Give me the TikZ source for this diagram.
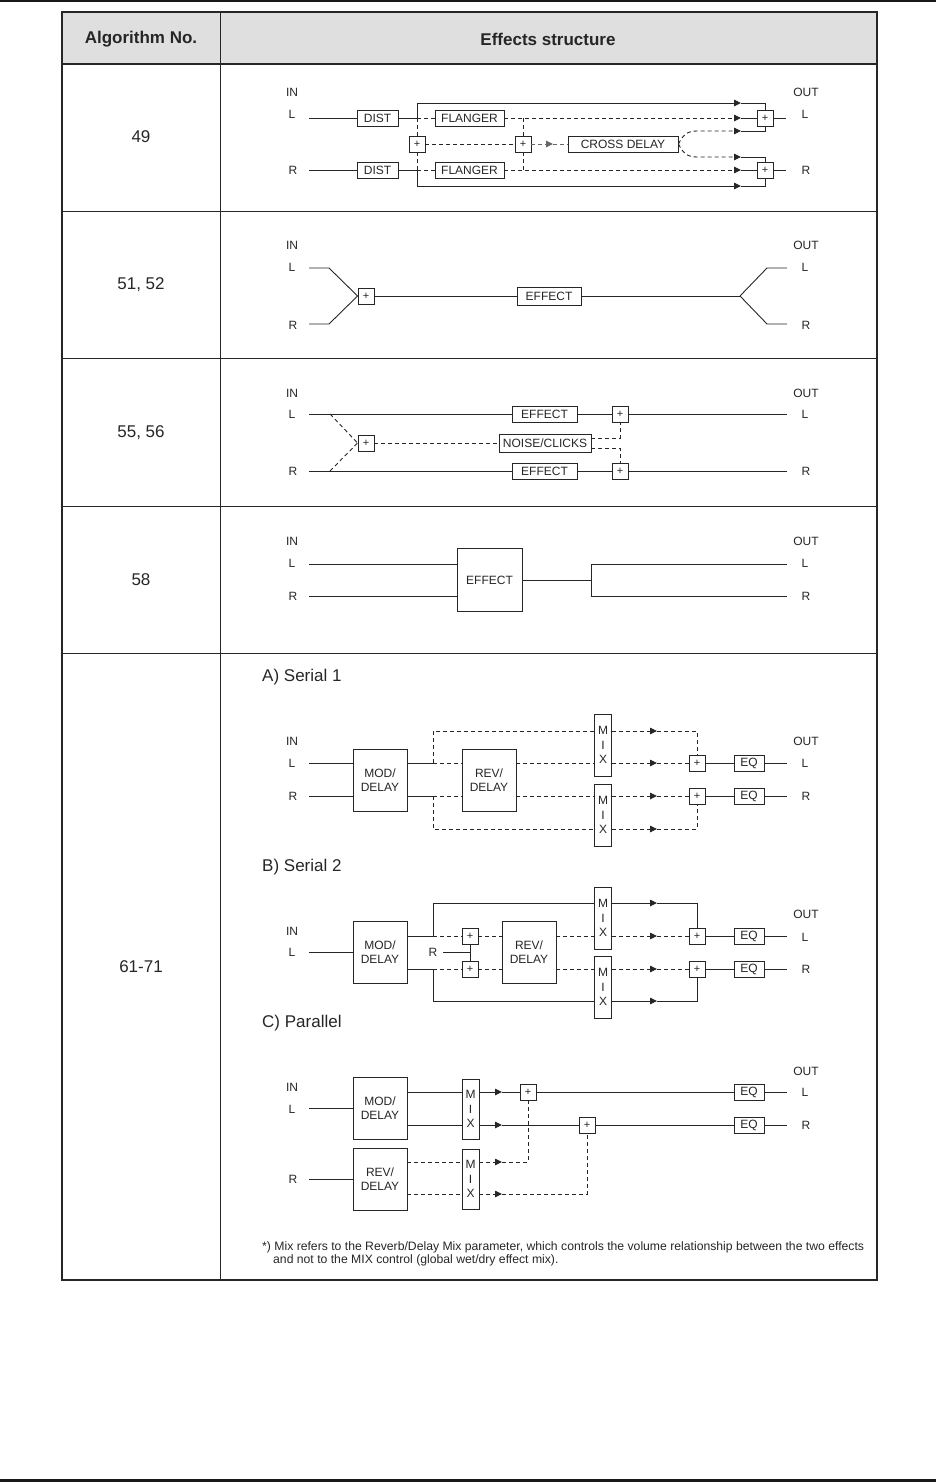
\documentclass[tikz,border=0pt]{standalone}
\usepackage{fontspec}
\setmainfont{Liberation Sans}
\usetikzlibrary{arrows.meta}

\tikzset{
  sig/.style={line width=0.9pt, black!85},
  dsig/.style={sig, dash pattern=on 4pt off 3pt},
  tip/.style={-{Triangle[length=7pt,width=6.5pt]}},
  box/.style={draw, sig, fill=white, inner sep=0pt, minimum height=16pt,
    font=\fontsize{12}{14}\selectfont},
  sum/.style={box, minimum width=16pt, font=\fontsize{11}{11}\selectfont},
  bigbox/.style={box, minimum width=54pt, minimum height=62pt, align=center},
  mixbox/.style={box, minimum width=17pt, minimum height=62pt, align=center,
    font=\fontsize{12}{14.5}\selectfont},
  lbl/.style={inner sep=0pt, black!85, font=\fontsize{12}{14}\selectfont},
  num/.style={inner sep=0pt, black!85, font=\fontsize{17}{20}\selectfont},
}

\begin{document}
\begin{tikzpicture}[x=1pt, y=-1pt]
\useasboundingbox (0,0) rectangle (936,1482);

% page rules and table
\draw[line width=2.5pt, black!90] (0,1.2) -- (936,1.2);
\draw[line width=3pt, black!90] (0,1480.5) -- (936,1480.5);
\fill[gray!25] (62,12) rectangle (877,64);
\draw[line width=1pt, black!85] (220,12) -- (220,1280);
\foreach \y in {211,358,506,653}
  \draw[line width=1pt, black!85] (62,\y) -- (877,\y);
\draw[line width=1.6pt, black!85] (62,64) -- (877,64);
\draw[line width=2pt, black!85] (62,12) rectangle (877,1280);

\node[num, font=\fontsize{17}{20}\selectfont\bfseries] (hAlg) at (141,39) {Algorithm No.};
\node[num, font=\fontsize{17}{20}\selectfont\bfseries] (hFx) at (548,39) {Effects structure};
\node[num] (n49) at (141,137) {49};
\node[num] (n51) at (141,285) {51, 52};
\node[num] (n55) at (141,433) {55, 56};
\node[num] (n58) at (141,580) {58};
\node[num] (n61) at (141,967) {61-71};

% IN / OUT labels
\foreach \n/\yi/\yl/\yr in {a/92/114/170, b/245/267/325, c/393/414/471, d/541/563/596, e/741/763/796} {
  \node[lbl] (in\n) at (292,\yi) {IN};
  \node[lbl] (il\n) at (292,\yl) {L};
  \node[lbl] (ir\n) at (293,\yr) {R};
  \node[lbl] (out\n) at (806,\yi) {OUT};
  \node[lbl] (ol\n) at (805,\yl) {L};
  \node[lbl] (or\n) at (806,\yr) {R};
}

% 49
\coordinate (aIL) at (309,118);
\coordinate (aIR) at (309,170);
\coordinate (aJL) at (417,118);
\coordinate (aJR) at (417,170);
\coordinate (aTop) at (417,103);
\coordinate (aBot) at (417,186);
\coordinate (aKL) at (523,118);
\coordinate (aKR) at (523,170);
\coordinate (aC1) at (697,131);
\coordinate (aC2) at (697,157);
\coordinate (aA1) at (741,103);
\coordinate (aA2) at (741,118);
\coordinate (aA3) at (553,144);
\coordinate (aA4) at (741,131);
\coordinate (aA5) at (741,157);
\coordinate (aA6) at (741,170);
\coordinate (aA7) at (741,186);
\coordinate (aOL) at (786,118);
\coordinate (aOR) at (786,170);
\node[box, minimum width=41pt] (distL) at (377.5,118) {DIST};
\node[box, minimum width=41pt] (distR) at (377.5,170) {DIST};
\node[box, minimum width=69pt] (flangL) at (469.5,118) {FLANGER};
\node[box, minimum width=69pt] (flangR) at (469.5,170) {FLANGER};
\node[sum] (aS1) at (417,144) {+};
\node[sum] (aS2) at (523,144) {+};
\node[box, minimum width=110pt] (cross) at (623,144) {CROSS DELAY};
\node[sum] (aSL) at (765,118) {+};
\node[sum] (aSR) at (765,170) {+};
\draw[sig] (aIL) -- (distL) -- (aJL) -- (aTop);
\draw[sig] (aIR) -- (distR) -- (aJR) -- (aBot);
\draw[sig, tip] (aTop) -- (aA1);
\draw[sig, tip] (aBot) -- (aA7);
\draw[sig] (aA1) -| (aSL);
\draw[sig] (aA7) -| (aSR);
\draw[dsig] (aJL) -- (flangL);
\draw[dsig] (aJR) -- (flangR);
\draw[dsig, tip] (flangL) -- (aA2);
\draw[dsig, tip] (flangR) -- (aA6);
\draw[sig] (aA2) -- (aSL);
\draw[sig] (aA6) -- (aSR);
\draw[dsig] (aJL) -- (aS1);
\draw[dsig] (aJR) -- (aS1);
\draw[dsig] (aKL) -- (aS2);
\draw[dsig] (aKR) -- (aS2);
\draw[dsig] (aS1) -- (aS2);
\draw[dsig, black!60, tip] (aS2) -- (aA3);
\draw[dsig, black!60] (aA3) -- (cross);
\draw[dsig, tip] (cross.east) .. controls (683,135) and (687,131) .. (aC1) -- (aA4);
\draw[dsig, tip] (cross.east) .. controls (683,153) and (687,157) .. (aC2) -- (aA5);
\draw[sig] (aA4) -| (aSL);
\draw[sig] (aA5) -| (aSR);
\draw[sig] (aSL) -- (aOL);
\draw[sig] (aSR) -- (aOR);

% 51, 52
\coordinate (bIL) at (309,268);
\coordinate (bIR) at (309,324);
\coordinate (bBL) at (329,268);
\coordinate (bBR) at (329,324);
\coordinate (bSplit) at (740,296);
\coordinate (bCL) at (767,268);
\coordinate (bCR) at (767,324);
\coordinate (bOL) at (787,268);
\coordinate (bOR) at (787,324);
\node[sum] (bS) at (366,296) {+};
\node[box, minimum width=64pt, minimum height=18pt] (bFx) at (549,296) {EFFECT};
\draw[sig] (bIL) -- (bBL) -- (bS.west);
\draw[sig] (bIR) -- (bBR) -- (bS.west);
\draw[sig] (bS) -- (bFx) -- (bSplit);
\draw[sig] (bSplit) -- (bCL) -- (bOL);
\draw[sig] (bSplit) -- (bCR) -- (bOR);

% 55, 56
\coordinate (cIL) at (309,414);
\coordinate (cIR) at (309,471);
\coordinate (cDL) at (330,414);
\coordinate (cDR) at (330,471);
\coordinate (cOL) at (787,414);
\coordinate (cOR) at (787,471);
\node[box, minimum width=65pt] (cFxL) at (544.5,414) {EFFECT};
\node[box, minimum width=65pt] (cFxR) at (544.5,471) {EFFECT};
\node[box, minimum width=92pt, minimum height=18pt] (noise) at (545,443) {NOISE/CLICKS};
\node[sum] (cS) at (366,443) {+};
\node[sum] (cSL) at (620,414) {+};
\node[sum] (cSR) at (620,471) {+};
\draw[sig] (cIL) -- (cFxL) -- (cSL) -- (cOL);
\draw[sig] (cIR) -- (cFxR) -- (cSR) -- (cOR);
\draw[dsig] (cDL) -- (cS.west);
\draw[dsig] (cDR) -- (cS.west);
\draw[dsig] (cS) -- (noise);
\draw[dsig] ([yshift=5pt]noise.east) -| (cSL);
\draw[dsig] ([yshift=-5pt]noise.east) -| (cSR);

% 58
\coordinate (dIL) at (309,564);
\coordinate (dIR) at (309,596);
\coordinate (dJ) at (591,580);
\coordinate (dJL) at (591,564);
\coordinate (dJR) at (591,596);
\coordinate (dOL) at (787,564);
\coordinate (dOR) at (787,596);
\node[box, minimum width=65pt, minimum height=63pt] (dFx) at (489.5,580) {EFFECT};
\draw[sig] (dIL) -- (dIL -| dFx.west);
\draw[sig] (dIR) -- (dIR -| dFx.west);
\draw[sig] (dFx) -- (dJ);
\draw[sig] (dOL) -- (dJL) -- (dJR) -- (dOR);

% 61-71, A) Serial 1
\node[num, anchor=west] (secA) at (262,677) {A) Serial 1};
\coordinate (eIL) at (309,763);
\coordinate (eIR) at (309,796);
\coordinate (eJL) at (433,763);
\coordinate (eJR) at (433,796);
\coordinate (eTop) at (433,731);
\coordinate (eBot) at (433,829);
\coordinate (eA1) at (657,731);
\coordinate (eA2) at (657,763);
\coordinate (eA3) at (657,796);
\coordinate (eA4) at (657,829);
\coordinate (eOL) at (787,763);
\coordinate (eOR) at (787,796);
\node[bigbox] (eMod) at (380,780) {MOD/\\DELAY};
\node[bigbox] (eRev) at (489,780) {REV/\\DELAY};
\node[mixbox] (eMixT) at (603,745) {M\\I\\X};
\node[mixbox] (eMixB) at (603,815) {M\\I\\X};
\node[sum] (eSL) at (697,763) {+};
\node[sum] (eSR) at (697,796) {+};
\node[box, minimum width=30pt] (eEqL) at (749,763) {EQ};
\node[box, minimum width=30pt] (eEqR) at (749,796) {EQ};
\draw[sig] (eIL) -- (eIL -| eMod.west);
\draw[sig] (eIR) -- (eIR -| eMod.west);
\draw[sig] (eJL -| eMod.east) -- (eJL);
\draw[sig] (eJR -| eMod.east) -- (eJR);
\draw[dsig] (eJL) -- (eJL -| eRev.west);
\draw[dsig] (eJR) -- (eJR -| eRev.west);
\draw[dsig] (eJL) -- (eTop) -- (eTop -| eMixT.west);
\draw[dsig] (eJR) -- (eBot) -- (eBot -| eMixB.west);
\draw[dsig] (eJL -| eRev.east) -- (eJL -| eMixT.west);
\draw[dsig] (eJR -| eRev.east) -- (eJR -| eMixB.west);
\draw[dsig, tip] (eTop -| eMixT.east) -- (eA1);
\draw[dsig, tip] (eJL -| eMixT.east) -- (eA2);
\draw[dsig, tip] (eJR -| eMixB.east) -- (eA3);
\draw[dsig, tip] (eBot -| eMixB.east) -- (eA4);
\draw[dsig] (eA1) -| (eSL);
\draw[dsig] (eA2) -- (eSL);
\draw[dsig] (eA3) -- (eSR);
\draw[dsig] (eA4) -| (eSR);
\draw[sig] (eSL) -- (eEqL) -- (eOL);
\draw[sig] (eSR) -- (eEqR) -- (eOR);

% B) Serial 2
\node[num, anchor=west] (secB) at (262,867) {B) Serial 2};
\node[lbl] (inf) at (292,931) {IN};
\node[lbl] (ilf) at (292,952) {L};
\node[lbl] (outf) at (806,914) {OUT};
\node[lbl] (olf) at (805,937) {L};
\node[lbl] (orf) at (806,969) {R};
\coordinate (fIL) at (309,952);
\coordinate (fRs) at (443,952);
\coordinate (fRj) at (470,952);
\coordinate (fJL) at (433,936);
\coordinate (fJR) at (433,969);
\coordinate (fTop) at (433,903);
\coordinate (fBot) at (433,1001);
\coordinate (fA1) at (657,903);
\coordinate (fA2) at (657,936);
\coordinate (fA3) at (657,969);
\coordinate (fA4) at (657,1001);
\coordinate (fOL) at (787,936);
\coordinate (fOR) at (787,969);
\node[bigbox] (fMod) at (380,952) {MOD/\\DELAY};
\node[sum] (fS1) at (470,936) {+};
\node[sum] (fS2) at (470,969) {+};
\node[bigbox] (fRev) at (529,952) {REV/\\DELAY};
\node[mixbox] (fMixT) at (603,918) {M\\I\\X};
\node[mixbox] (fMixB) at (603,987) {M\\I\\X};
\node[sum] (fSL) at (697,936) {+};
\node[sum] (fSR) at (697,969) {+};
\node[box, minimum width=30pt] (fEqL) at (749,936) {EQ};
\node[box, minimum width=30pt] (fEqR) at (749,969) {EQ};
\node[lbl] (fR) at (433,952) {R};
\draw[sig] (fIL) -- (fMod);
\draw[sig] (fJL -| fMod.east) -- (fJL) -- (fTop) -- (fTop -| fMixT.west);
\draw[sig] (fJR -| fMod.east) -- (fJR) -- (fBot) -- (fBot -| fMixB.west);
\draw[dsig] (fJL) -- (fS1);
\draw[dsig] (fJR) -- (fS2);
\draw[sig] (fS1) -- (fS2);
\draw[sig] (fRs) -- (fRj);
\draw[dsig] (fS1) -- (fS1 -| fRev.west);
\draw[dsig] (fS2) -- (fS2 -| fRev.west);
\draw[dsig] (fJL -| fRev.east) -- (fJL -| fMixT.west);
\draw[dsig] (fJR -| fRev.east) -- (fJR -| fMixB.west);
\draw[sig, tip] (fTop -| fMixT.east) -- (fA1);
\draw[dsig, tip] (fJL -| fMixT.east) -- (fA2);
\draw[dsig, tip] (fJR -| fMixB.east) -- (fA3);
\draw[sig, tip] (fBot -| fMixB.east) -- (fA4);
\draw[sig] (fA1) -| (fSL);
\draw[dsig] (fA2) -- (fSL);
\draw[dsig] (fA3) -- (fSR);
\draw[sig] (fA4) -| (fSR);
\draw[sig] (fSL) -- (fEqL) -- (fOL);
\draw[sig] (fSR) -- (fEqR) -- (fOR);

% C) Parallel
\node[num, anchor=west] (secC) at (262,1023) {C) Parallel};
\node[lbl] (ing) at (292,1087) {IN};
\node[lbl] (ilg) at (292,1109) {L};
\node[lbl] (irg) at (293,1179) {R};
\node[lbl] (outg) at (806,1071) {OUT};
\node[lbl] (olg) at (805,1092) {L};
\node[lbl] (org) at (806,1125) {R};
\coordinate (gIL) at (309,1108);
\coordinate (gIR) at (309,1179);
\coordinate (gA1) at (502,1092);
\coordinate (gA2) at (502,1125);
\coordinate (gA3) at (502,1162);
\coordinate (gA4) at (502,1194);
\coordinate (gOL) at (787,1092);
\coordinate (gOR) at (787,1125);
\node[bigbox] (gMod) at (380,1108) {MOD/\\DELAY};
\node[bigbox] (gRev) at (380,1179) {REV/\\DELAY};
\node[mixbox, minimum height=60pt] (gMixT) at (470.5,1109) {M\\I\\X};
\node[mixbox, minimum height=60pt] (gMixB) at (470.5,1179) {M\\I\\X};
\node[sum] (gS1) at (528,1092) {+};
\node[sum] (gS2) at (587,1125) {+};
\node[box, minimum width=30pt] (gEqL) at (749,1092) {EQ};
\node[box, minimum width=30pt] (gEqR) at (749,1125) {EQ};
\draw[sig] (gIL) -- (gMod);
\draw[sig] (gIR) -- (gRev);
\draw[sig] (gA1 -| gMod.east) -- (gA1 -| gMixT.west);
\draw[sig] (gA2 -| gMod.east) -- (gA2 -| gMixT.west);
\draw[dsig] (gA3 -| gRev.east) -- (gA3 -| gMixB.west);
\draw[dsig] (gA4 -| gRev.east) -- (gA4 -| gMixB.west);
\draw[sig, tip] (gA1 -| gMixT.east) -- (gA1);
\draw[sig, tip] (gA2 -| gMixT.east) -- (gA2);
\draw[dsig, tip] (gA3 -| gMixB.east) -- (gA3);
\draw[dsig, tip] (gA4 -| gMixB.east) -- (gA4);
\draw[sig] (gA1) -- (gS1);
\draw[sig] (gA2) -- (gS2);
\draw[dsig] (gA3) -| (gS1);
\draw[dsig] (gA4) -| (gS2);
\draw[sig] (gS1) -- (gEqL) -- (gOL);
\draw[sig] (gS2) -- (gEqR) -- (gOR);

\node[lbl, anchor=base west, font=\fontsize{12.2}{13}\selectfont] (note1) at (262,1250)
  {*) Mix refers to the Reverb/Delay Mix parameter, which controls the volume relationship between the two effects};
\node[lbl, anchor=base west, font=\fontsize{12.2}{13}\selectfont] (note2) at (273,1263)
  {and not to the MIX control (global wet/dry effect mix).};
\end{tikzpicture}
\end{document}
